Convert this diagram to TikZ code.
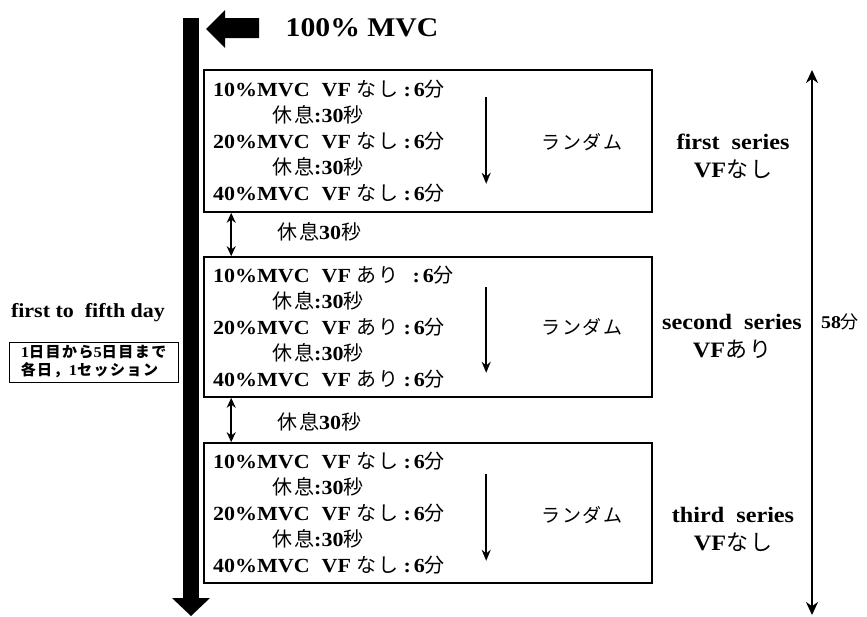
\documentclass[tikz,border=0pt]{standalone}
\usepackage{fontspec}
\setmainfont{Liberation Serif}[FakeStretch=1.1]
\newfontfamily\jpfont{Noto Sans CJK JP}[LetterSpace=10]
\usetikzlibrary{arrows.meta,calc}
\newcommand\JP[1]{{\jpfont\mdseries #1}}
\newcommand\JPb[1]{{\jpfont\bfseries #1}}
\newcommand\colsep{\hspace{5pt}:\hspace{3pt}}
\begin{document}
\begin{tikzpicture}[x=1pt,y=-1pt,
  box/.style={draw, line width=1.6pt, minimum width=448pt, inner sep=0pt},
  ln/.style={anchor=west, inner sep=0pt, font=\fontsize{20}{24}\selectfont\bfseries},
  rand/.style={inner sep=0pt, font=\fontsize{19}{24}\selectfont},
  ser/.style={inner sep=0pt, align=center, font=\fontsize{22}{28}\selectfont\bfseries},
  rest/.style={inner sep=0pt, font=\fontsize{20}{24}\selectfont\bfseries},
  inarr/.style={line width=2pt, -{Stealth[length=11pt,width=9pt]}},
  gaparr/.style={line width=2pt, {Stealth[length=10pt,width=9pt]}-{Stealth[length=10pt,width=9pt]}},
  durarr/.style={line width=2.6pt, {Stealth[length=13pt,width=12pt]}-{Stealth[length=13pt,width=12pt]}}]
\useasboundingbox (0,0) rectangle (867,616);
% time bar
\fill (183,18) rectangle (199,600);
\fill (172,598) -- (210,598) -- (191,616) -- cycle;
% block arrow
\fill (206,29) -- (225,10) -- (225,18) -- (259,18) -- (259,38) -- (225,38) -- (225,48) -- cycle;
\node[inner sep=0pt, font=\fontsize{27}{30}\selectfont\bfseries] (mvc) at (362,28) {100\% MVC};
% boxes
\node[box, minimum height=142pt] (b1) at (428,141) {};
\node[box, minimum height=140pt] (b2) at (428,327) {};
\node[box, minimum height=140pt] (b3) at (428,513) {};
% box 1
\node[ln] (b1l1) at (213,89) {10\%MVC\hspace{12pt}VF \JP{なし}\colsep 6\JP{分}};
\node[ln] (b1l2) at (272,115) {\JP{休息}:30\JP{秒}};
\node[ln] (b1l3) at (213,141) {20\%MVC\hspace{12pt}VF \JP{なし}\colsep 6\JP{分}};
\node[ln] (b1l4) at (272,167) {\JP{休息}:30\JP{秒}};
\node[ln] (b1l5) at (213,193) {40\%MVC\hspace{12pt}VF \JP{なし}\colsep 6\JP{分}};
% box 2
\node[ln] (b2l1) at (213,275) {10\%MVC\hspace{12pt}VF \JP{あり}\hspace{14pt}:\hspace{3pt}6\JP{分}};
\node[ln] (b2l2) at (272,301) {\JP{休息}:30\JP{秒}};
\node[ln] (b2l3) at (213,327) {20\%MVC\hspace{12pt}VF \JP{あり}\colsep 6\JP{分}};
\node[ln] (b2l4) at (272,353) {\JP{休息}:30\JP{秒}};
\node[ln] (b2l5) at (213,379) {40\%MVC\hspace{12pt}VF \JP{あり}\colsep 6\JP{分}};
% box 3
\node[ln] (b3l1) at (213,461) {10\%MVC\hspace{12pt}VF \JP{なし}\colsep 6\JP{分}};
\node[ln] (b3l2) at (272,487) {\JP{休息}:30\JP{秒}};
\node[ln] (b3l3) at (213,513) {20\%MVC\hspace{12pt}VF \JP{なし}\colsep 6\JP{分}};
\node[ln] (b3l4) at (272,539) {\JP{休息}:30\JP{秒}};
\node[ln] (b3l5) at (213,565) {40\%MVC\hspace{12pt}VF \JP{なし}\colsep 6\JP{分}};
% inner order arrows
\draw[inarr] ($(b1.north west)+(283,28)$) -- ($(b1.south west)+(283,-29)$);
\draw[inarr] ($(b2.north west)+(283,31)$) -- ($(b2.south west)+(283,-25)$);
\draw[inarr] ($(b3.north west)+(283,32)$) -- ($(b3.south west)+(283,-23)$);
\node[rand] (r1) at (582,142) {\JP{ランダム}};
\node[rand] (r2) at (582,327) {\JP{ランダム}};
\node[rand] (r3) at (582,515) {\JP{ランダム}};
% series labels
\node[ser] (s1) at (733,156) {first\ \ series\\VF\JP{なし}};
\node[ser] (s2) at (732,336) {second\ \ series\\VF\JP{あり}};
\node[ser] (s3) at (733,529) {third\ \ series\\VF\JP{なし}};
% rests between series
\draw[gaparr] ($(b1.south west)+(28,0)$) -- ($(b2.north west)+(28,0)$);
\draw[gaparr] ($(b2.south west)+(28,0)$) -- ($(b3.north west)+(28,0)$);
\node[rest] (g1) at (319,232) {\JP{休息}30\JP{秒}};
\node[rest] (g2) at (319,422) {\JP{休息}30\JP{秒}};
% total duration
\coordinate (rt) at (812,70);
\coordinate (rb) at (812,615);
\draw[durarr] (rt) -- (rb);
\node[inner sep=0pt, font=\fontsize{18}{22}\selectfont\bfseries] (m58) at (840,322) {58\JP{分}};
% days
\node[inner sep=0pt, font=\fontsize{20}{24}\selectfont\bfseries] (days) at (88,313) {first to\ \ fifth day};
\node[draw, line width=1pt, minimum width=169pt, minimum height=40pt, inner sep=0pt, align=left,
  font=\fontsize{15}{18}\selectfont\bfseries] (daybox) at (93.5,362)
  {1\JPb{日目から}5\JPb{日目まで}\\\JPb{各日，}1\JPb{セッション}};
\end{tikzpicture}
\end{document}
